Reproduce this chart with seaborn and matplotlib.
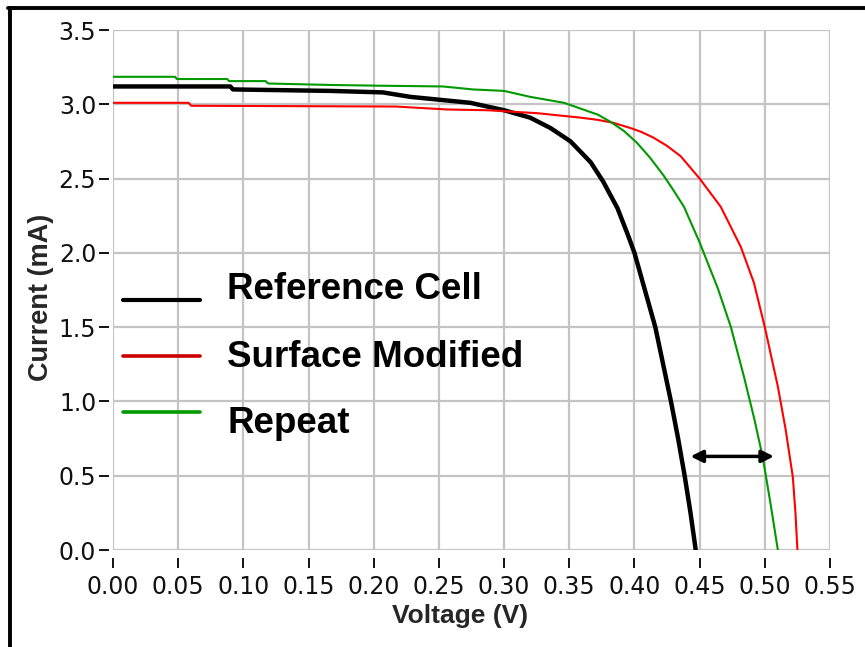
import numpy as np
import pandas as pd
import matplotlib
matplotlib.use("Agg")
import matplotlib.pyplot as plt
from matplotlib.lines import Line2D
import seaborn as sns

# ---- data ----
ref_v = [0.0, 0.09, 0.092, 0.167, 0.207, 0.228, 0.251, 0.274, 0.300, 0.320, 0.3356,
         0.351, 0.3664, 0.376, 0.387, 0.395, 0.400, 0.408, 0.416, 0.422, 0.428,
         0.4335, 0.4385, 0.443, 0.447]
ref_i = [3.12, 3.12, 3.10, 3.09, 3.08, 3.05, 3.03, 3.01, 2.96, 2.91, 2.84,
         2.75, 2.61, 2.48, 2.30, 2.12, 2.00, 1.75, 1.50, 1.25, 1.00,
         0.75, 0.50, 0.25, 0.0]

mod_v = [0.0, 0.058, 0.06, 0.2166, 0.2565, 0.287, 0.3256, 0.3587, 0.372, 0.384, 0.397,
         0.405, 0.4147, 0.425, 0.4355, 0.45, 0.4662, 0.4816, 0.4916, 0.50, 0.51, 0.516,
         0.5215, 0.5235, 0.525]
mod_i = [3.01, 3.01, 2.99, 2.985, 2.965, 2.96, 2.94, 2.91, 2.895, 2.875, 2.84,
         2.815, 2.775, 2.72, 2.65, 2.50, 2.31, 2.04, 1.80, 1.50, 1.10, 0.81,
         0.49, 0.25, 0.0]

rep_v = [0.0, 0.0476, 0.049, 0.0876, 0.089, 0.117, 0.119, 0.167, 0.205, 0.253, 0.276,
         0.300, 0.320, 0.346, 0.372, 0.382, 0.392, 0.402, 0.412, 0.4224, 0.430, 0.438,
         0.45, 0.464, 0.474, 0.4839, 0.492, 0.4985, 0.5046, 0.51]
rep_i = [3.185, 3.185, 3.17, 3.17, 3.156, 3.156, 3.14, 3.13, 3.125, 3.12, 3.10,
         3.09, 3.05, 3.01, 2.93, 2.88, 2.82, 2.74, 2.64, 2.52, 2.42, 2.31,
         2.07, 1.76, 1.50, 1.17, 0.88, 0.62, 0.30, 0.0]

series_names = ["Reference Cell", "Surface Modified", "Repeat"]
series_colors = ["#000000", "#ff0000", "#009900"]
legend_colors = ["#000000", "#cc0000", "#009900"]
series_widths = [3.2, 1.5, 1.5]

x_ticks = [0.00, 0.05, 0.10, 0.15, 0.20, 0.25, 0.30, 0.35, 0.40, 0.45, 0.50, 0.55]
y_ticks = [0.0, 0.5, 1.0, 1.5, 2.0, 2.5, 3.0, 3.5]

arrow_y = 0.63
arrow_v = [0.443, 0.507]

# ---- plotting ----
sns.set_style("white")
plt.rcParams["font.family"] = ["DejaVu Sans"]

fig = plt.figure(figsize=(8.65, 6.47), dpi=100)
ax = fig.add_axes([113 / 865, 1 - 550 / 647, 717 / 865, 520 / 647])

frames = []
for name, v, i in zip(series_names, [ref_v, mod_v, rep_v], [ref_i, mod_i, rep_i]):
    frames.append(pd.DataFrame({"Voltage": v, "Current": i, "Series": name}))
df = pd.concat(frames, ignore_index=True)

for name, col, lw in zip(series_names, series_colors, series_widths):
    sub = df[df["Series"] == name]
    sns.lineplot(data=sub, x="Voltage", y="Current", color=col, linewidth=lw,
                 ax=ax, sort=False, estimator=None, legend=False, zorder=3)

ax.set_xlim(0, 0.55)
ax.set_ylim(0, 3.5)
ax.set_xticks(x_ticks)
ax.set_yticks(y_ticks)
ax.set_xticklabels([f"{t:.2f}" for t in x_ticks])
ax.set_yticklabels([f"{t:.1f}" for t in y_ticks])

ax.grid(True, color="#c4c4c4", linewidth=1.6, zorder=0)
ax.set_axisbelow(True)
for s in ["top", "right", "left", "bottom"]:
    ax.spines[s].set_visible(False)
ax.spines["bottom"].set_position(("outward", 6))
ax.spines["left"].set_position(("outward", 3))

ax.tick_params(axis="x", direction="out", length=7, width=1.3, color="black", pad=5,
               bottom=True)
ax.tick_params(axis="y", direction="out", length=7, width=1.3, color="black", pad=2,
               left=True)
for lab in ax.get_xticklabels() + ax.get_yticklabels():
    lab.set_fontfamily("DejaVu Sans")
    lab.set_fontsize(17)
    lab.set_color("#111111")

ax.set_xlabel("Voltage (V)", fontsize=19, fontweight="bold",
              fontfamily="Liberation Sans")
ax.set_ylabel("Current (mA)", fontsize=19.5, fontweight="bold",
              fontfamily="Liberation Sans")
ax.xaxis.set_label_coords((460 - 113) / 717, -(604 - 550) / 520)
ax.yaxis.set_label_coords(-(113 - 54) / 717, (550 - 297) / 520)

# arrow
ax.annotate("", xy=(arrow_v[1], arrow_y), xytext=(arrow_v[0], arrow_y),
            arrowprops=dict(arrowstyle="<|-|>", color="black", lw=2.5,
                            mutation_scale=18, shrinkA=0, shrinkB=0), zorder=5)

# legend (manual)
leg_line_y = [(550 - 300) / 520, (550 - 356) / 520, (550 - 412) / 520]
leg_text_y = [(550 - 299) / 520, (550 - 367) / 520, (550 - 433) / 520]
leg_lw = [3.0, 2.6, 2.6]
for name, col, ly, ty, lw in zip(series_names, legend_colors, leg_line_y, leg_text_y, leg_lw):
    ax.add_line(Line2D([10 / 717, 87 / 717], [ly, ly], transform=ax.transAxes,
                       color=col, linewidth=lw, zorder=4))
    ax.text(114 / 717, ty, name, transform=ax.transAxes, fontsize=26.5,
            fontweight="bold", fontfamily="Liberation Sans", va="baseline",
            ha="left", color="black", zorder=4)

# figure frame (left & top)
fig.add_artist(Line2D([9.5 / 865, 9.5 / 865], [0, 1 - 7.5 / 647], transform=fig.transFigure,
                      color="black", linewidth=2.8))
fig.add_artist(Line2D([8 / 865, 1], [1 - 7.5 / 647, 1 - 7.5 / 647], transform=fig.transFigure,
                      color="black", linewidth=2.8))

fig.savefig("out.png", dpi=100)
